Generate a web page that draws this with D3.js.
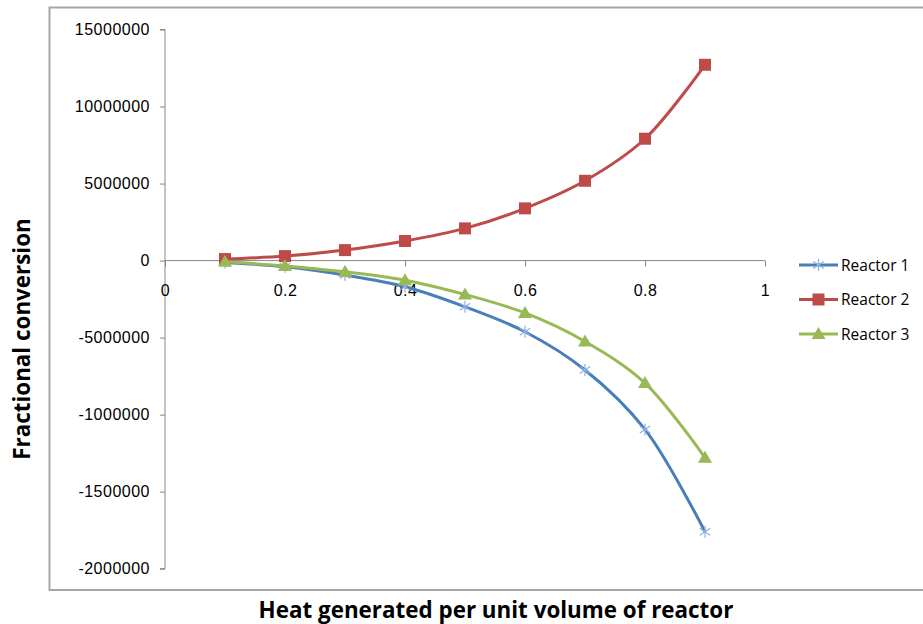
<!DOCTYPE html>
<html lang="en">
<head>
  <meta charset="UTF-8">
  <title>Reactor chart</title>
  <script src="https://d3js.org/d3.v7.min.js"></script>
  <style>
    body {
      margin: 0;
      overflow: hidden;
      background: #ffffff;
    }
    svg {
      font-family: 'Open Sans', sans-serif;
    }
    .tick text {
      font-size: 16px;
      fill: #000;
    }
    .axis path, .axis line {
      stroke: #868686;
    }
  </style>
</head>
<body>
  <svg width="923" height="624"></svg>

  <script>
    // data
    const heat = [0.1, 0.2, 0.3, 0.4, 0.5, 0.6, 0.7, 0.8, 0.9];
    const reactor1 = [-120000, -400000, -940000, -1700000, -3000000, -4620000, -7100000, -10960000, -17600000];
    const reactor2 = [100000, 290000, 680000, 1270000, 2090000, 3390000, 5180000, 7910000, 12710000];
    const reactor3 = [-80000, -350000, -730000, -1270000, -2200000, -3400000, -5250000, -7950000, -12800000];

    const xTicks = [0, 0.2, 0.4, 0.6, 0.8, 1];
    const yTicks = [15000000, 10000000, 5000000, 0, -5000000, -10000000, -15000000, -20000000];
    const yTickLabels = ["15000000", "10000000", "5000000", "0", "-5000000", "-1000000", "-1500000", "-2000000"];

    const seriesNames = ["Reactor 1", "Reactor 2", "Reactor 3"];
    const seriesColors = ["#4A7EBB", "#BE4B48", "#98B954"];
    const seriesMarkers = ["star", "square", "triangle"];

    const svg = d3.select("svg");

    // outer chart border
    svg.append("rect")
      .attr("x", 49.5).attr("y", 7.5)
      .attr("width", 900).attr("height", 582.5)
      .attr("fill", "none")
      .attr("stroke", "#a6a6a6")
      .attr("stroke-width", 2);

    const x = d3.scaleLinear().domain([0, 1]).range([165, 765]);
    const y = d3.scaleLinear().domain([-20000000, 15000000]).range([568.7, 29.5]);

    // y axis
    const yAxis = svg.append("g")
      .attr("class", "axis")
      .attr("transform", `translate(${x(0)},0)`)
      .call(d3.axisLeft(y)
        .tickValues(yTicks)
        .tickSize(5)
        .tickPadding(10)
        .tickFormat((d, i) => yTickLabels[i]));
    yAxis.select(".domain").attr("d", `M-5,${y(15000000)}H0V${y(-20000000)}H-5`);
    yAxis.selectAll(".tick text").attr("letter-spacing", 0.5);

    // x axis (crosses at zero)
    const xAxis = svg.append("g")
      .attr("class", "axis")
      .attr("transform", `translate(0,${y(0)})`)
      .call(d3.axisBottom(x)
        .tickValues(xTicks)
        .tickSize(6)
        .tickPadding(18)
        .tickFormat(d3.format("")));
    xAxis.select(".domain").attr("d", `M${x(0)},0H${x(1)}`);
    xAxis.selectAll(".tick text").attr("letter-spacing", 0.5);

    const line = d3.line()
      .x(d => x(d[0]))
      .y(d => y(d[1]))
      .curve(d3.curveCatmullRom.alpha(0.5));

    const series = [reactor1, reactor2, reactor3];

    function drawMarker(g, type, color, cx, cy) {
      if (type === "square") {
        g.append("rect")
          .attr("x", cx - 6).attr("y", cy - 6)
          .attr("width", 12).attr("height", 12)
          .attr("fill", color);
      } else if (type === "triangle") {
        g.append("path")
          .attr("d", `M${cx},${cy - 7}L${cx + 7},${cy + 5}L${cx - 7},${cy + 5}Z`)
          .attr("fill", color);
      } else {
        const r = 6;
        g.append("path")
          .attr("d", `M${cx},${cy - r}L${cx},${cy + r}M${cx - 5.2},${cy - 3.5}L${cx + 5.2},${cy + 3.5}M${cx - 5.2},${cy + 3.5}L${cx + 5.2},${cy - 3.5}`)
          .attr("stroke", "#8cb0de")
          .attr("stroke-width", 1.2)
          .attr("fill", "none");
      }
    }

    series.forEach((vals, i) => {
      const pts = heat.map((h, j) => [h, vals[j]]);
      svg.append("path")
        .datum(pts)
        .attr("d", line)
        .attr("fill", "none")
        .attr("stroke", seriesColors[i])
        .attr("stroke-width", 3);
      const mg = svg.append("g");
      pts.forEach(p => drawMarker(mg, seriesMarkers[i], seriesColors[i], x(p[0]), y(p[1])));
    });

    // legend
    const legend = svg.append("g");
    seriesNames.forEach((name, i) => {
      const ly = 265 + i * 34.5;
      legend.append("line")
        .attr("x1", 799).attr("x2", 838)
        .attr("y1", ly).attr("y2", ly)
        .attr("stroke", seriesColors[i])
        .attr("stroke-width", 3);
      drawMarker(legend, seriesMarkers[i], seriesColors[i], 818.5, ly);
      legend.append("text")
        .attr("x", 841).attr("y", ly + 5.5)
        .attr("font-size", 15.5)
        .attr("fill", "#000")
        .text(name);
    });

    // axis titles
    svg.append("text")
      .attr("x", 496).attr("y", 618)
      .attr("text-anchor", "middle")
      .attr("font-size", 22.4)
      .attr("font-weight", "bold")
      .attr("fill", "#000")
      .text("Heat generated per unit volume of reactor");

    svg.append("text")
      .attr("transform", "translate(30,339) rotate(-90)")
      .attr("text-anchor", "middle")
      .attr("font-size", 22.4)
      .attr("font-weight", "bold")
      .attr("fill", "#000")
      .text("Fractional conversion");
  </script>
</body>
</html>
